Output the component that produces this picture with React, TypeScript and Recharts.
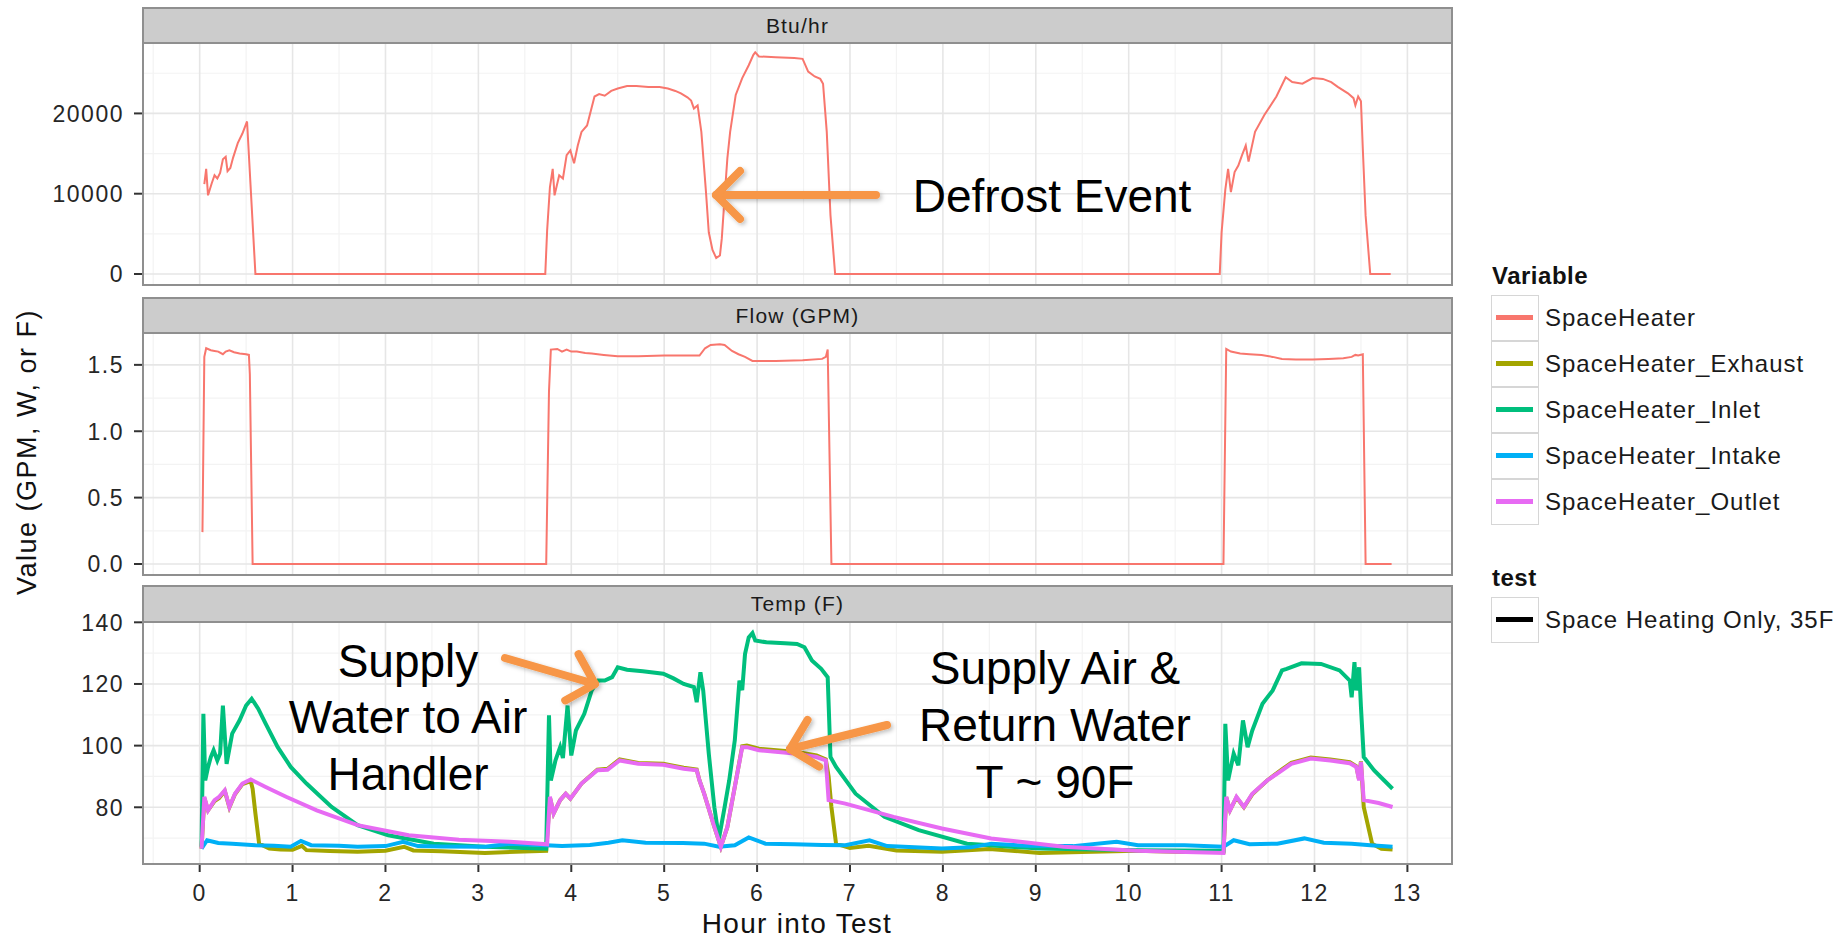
import React from "react";
import { LineChart, Line, XAxis, YAxis, ReferenceLine } from "recharts";

type Pt = [number, number];

const FONT = '"Liberation Sans", Arial, Helvetica, sans-serif';

// hours into the test
const hourTicks = [0, 1, 2, 3, 4, 5, 6, 7, 8, 9, 10, 11, 12, 13];
const hourMinorTicks = [-0.5, 0.5, 1.5, 2.5, 3.5, 4.5, 5.5, 6.5, 7.5, 8.5, 9.5, 10.5, 11.5, 12.5];

// Btu/hr panel
const btuTicks = [0, 10000, 20000];
const btuMinorTicks = [5000, 15000, 25000];
const btuHeater: Pt[] = [
  [0.05, 11200], [0.07, 13100], [0.09, 9800], [0.13, 11300], [0.16, 12300], [0.19, 11900],
  [0.22, 12600], [0.25, 14300], [0.28, 14600], [0.3, 12800], [0.33, 13200], [0.36, 14500],
  [0.41, 16300], [0.46, 17500], [0.51, 19000], [0.6, 0], [3.72, 0], [3.74, 5400], [3.77, 10800],
  [3.8, 13100], [3.82, 9800], [3.87, 12300], [3.91, 11900], [3.95, 14800], [3.99, 15400],
  [4.03, 13800], [4.07, 16000], [4.11, 17700], [4.17, 18500], [4.25, 22100], [4.3, 22400],
  [4.36, 22200], [4.43, 22800], [4.5, 23100], [4.6, 23400], [4.7, 23400], [4.83, 23300],
  [4.95, 23300], [5.04, 23100], [5.12, 22800], [5.18, 22500], [5.25, 22000], [5.29, 21600],
  [5.32, 20600], [5.36, 21000], [5.4, 17700], [5.45, 10200], [5.48, 5200], [5.52, 3000],
  [5.56, 2000], [5.6, 2300], [5.62, 4400], [5.65, 9500], [5.68, 14400], [5.71, 17700],
  [5.77, 22300], [5.84, 24400], [5.91, 26000], [5.96, 27300], [5.98, 27600], [6.02, 27100],
  [6.2, 27000], [6.4, 26900], [6.49, 26800], [6.55, 25200], [6.62, 24600], [6.68, 24300],
  [6.71, 23700], [6.75, 17700], [6.79, 7300], [6.84, 0], [10.98, 0], [11.0, 5200], [11.04, 10500],
  [11.07, 13100], [11.1, 10200], [11.14, 12700], [11.18, 13500], [11.22, 14800], [11.26, 16000],
  [11.29, 14000], [11.36, 17700], [11.46, 19800], [11.59, 22100], [11.69, 24500], [11.76, 23900],
  [11.87, 23700], [11.98, 24400], [12.09, 24300], [12.18, 23900], [12.25, 23300], [12.36, 22500],
  [12.42, 21900], [12.44, 21000], [12.47, 22100], [12.5, 21500], [12.52, 15600], [12.55, 7300],
  [12.6, 0], [12.82, 0],
];

// Flow (GPM) panel
const flowTicks = [0, 0.5, 1, 1.5];
const flowMinorTicks = [0.25, 0.75, 1.25];
const flowHeater: Pt[] = [
  [0.03, 0.24], [0.05, 1.56], [0.07, 1.625], [0.12, 1.61], [0.16, 1.605], [0.2, 1.6], [0.25, 1.58],
  [0.28, 1.6], [0.32, 1.61], [0.37, 1.595], [0.43, 1.585], [0.5, 1.58], [0.53, 1.575], [0.54, 1.43],
  [0.57, 0], [3.73, 0], [3.76, 1.3], [3.78, 1.615], [3.85, 1.62], [3.9, 1.6], [3.95, 1.615],
  [4.0, 1.6], [4.06, 1.6], [4.15, 1.59], [4.22, 1.585], [4.35, 1.575], [4.5, 1.565], [4.72, 1.565],
  [5.0, 1.57], [5.2, 1.57], [5.38, 1.57], [5.44, 1.625], [5.5, 1.65], [5.6, 1.655], [5.65, 1.65],
  [5.73, 1.605], [5.8, 1.58], [5.87, 1.56], [5.95, 1.53], [6.2, 1.53], [6.49, 1.535], [6.7, 1.545],
  [6.74, 1.56], [6.76, 1.615], [6.8, 0], [11.02, 0], [11.05, 1.62], [11.1, 1.6], [11.2, 1.585],
  [11.3, 1.58], [11.43, 1.575], [11.55, 1.56], [11.65, 1.545], [11.8, 1.54], [11.98, 1.54],
  [12.15, 1.545], [12.31, 1.55], [12.4, 1.56], [12.44, 1.575], [12.47, 1.57], [12.52, 1.58],
  [12.55, 0], [12.83, 0],
];

// Temp (F) panel
const tempTicks = [80, 100, 120, 140];
const tempMinorTicks = [70, 90, 110, 130];
const tempExhaust: Pt[] = [
  [0.02, 66.6], [0.05, 83], [0.09, 79], [0.16, 82], [0.21, 83], [0.27, 85.3], [0.32, 80],
  [0.38, 84.2], [0.46, 87.5], [0.55, 88.5], [0.57, 86], [0.6, 78], [0.64, 68.2], [0.75, 66.6],
  [0.87, 66.3], [1.0, 66.2], [1.1, 67.5], [1.15, 66.1], [1.4, 65.8], [1.7, 65.6], [2.0, 65.9],
  [2.2, 67.2], [2.3, 66], [2.6, 65.7], [3.07, 65.2], [3.4, 65.6], [3.73, 65.9], [3.77, 83.2],
  [3.81, 78], [3.88, 82.3], [3.94, 84.4], [3.99, 82.8], [4.11, 87.7], [4.28, 92.2], [4.39, 92.5],
  [4.52, 95.5], [4.72, 94.4], [4.99, 94.1], [5.21, 92.8], [5.35, 92.2], [5.38, 88.7], [5.43, 84.4],
  [5.54, 73.6], [5.61, 67.2], [5.68, 73.6], [5.76, 86.6], [5.84, 99.8], [5.89, 100], [6.02, 99],
  [6.43, 97.9], [6.64, 96.8], [6.74, 95.5], [6.77, 90], [6.8, 80.1], [6.85, 68.2], [7.0, 66.8],
  [7.2, 67.5], [7.5, 66], [7.99, 65.6], [8.5, 66.5], [9.04, 65.2], [9.5, 65.5], [10.08, 65.9],
  [10.6, 65.5], [11.02, 65.5], [11.05, 83.2], [11.09, 79], [11.16, 83.2], [11.24, 80],
  [11.33, 84.2], [11.49, 88.7], [11.65, 92.3], [11.75, 94.4], [11.96, 96.1], [12.17, 95.5],
  [12.38, 94.6], [12.45, 93.3], [12.48, 89], [12.5, 94.9], [12.53, 80.1], [12.62, 68.2],
  [12.72, 66.5], [12.84, 66.3],
];
const tempInlet: Pt[] = [
  [0.02, 67.2], [0.04, 110.3], [0.06, 88.7], [0.09, 93], [0.12, 96.3], [0.15, 98.5], [0.19, 95.2],
  [0.22, 97.4], [0.25, 113], [0.29, 94.1], [0.35, 103.9], [0.43, 108.2], [0.5, 113], [0.56, 115.2],
  [0.63, 112], [0.71, 107.1], [0.84, 99.5], [0.98, 93.1], [1.15, 87.7], [1.42, 80.1], [1.7, 74.2],
  [2.03, 70.9], [2.52, 68.2], [3.07, 67.2], [3.73, 66.6], [3.76, 109.8], [3.78, 88.7], [3.83, 95.2],
  [3.88, 99.5], [3.91, 96], [3.96, 113], [4.0, 96.8], [4.05, 104.9], [4.14, 110.3], [4.22, 117.9],
  [4.29, 121.1], [4.36, 121.1], [4.44, 122.2], [4.5, 125.4], [4.6, 124.6], [4.77, 124.1],
  [4.99, 123.3], [5.1, 121.8], [5.21, 120], [5.32, 119], [5.35, 114.1], [5.39, 123.8], [5.42, 117.9],
  [5.48, 97.4], [5.54, 80], [5.59, 69.9], [5.65, 80], [5.7, 88.7], [5.76, 101.7], [5.81, 121.1],
  [5.84, 118], [5.87, 129.7], [5.91, 135.1], [5.95, 136.5], [5.98, 134.1], [6.1, 133.5],
  [6.3, 133.2], [6.43, 133], [6.51, 131.9], [6.59, 127.6], [6.69, 124.9], [6.76, 122.2],
  [6.79, 96.3], [6.85, 93.1], [7.06, 84.4], [7.37, 76.9], [7.74, 72.6], [8.26, 68.2], [9.04, 66.6],
  [10.08, 66.1], [11.02, 65.9], [11.04, 107.1], [11.07, 88.7], [11.13, 97.4], [11.18, 93.6],
  [11.23, 108.2], [11.28, 99.5], [11.33, 104.9], [11.44, 113.6], [11.55, 117.9], [11.65, 124.4],
  [11.7, 124.9], [11.86, 126.7], [12.07, 126.5], [12.27, 124.4], [12.38, 121.1], [12.4, 115.7],
  [12.43, 127.1], [12.45, 117.9], [12.48, 125.4], [12.5, 112.5], [12.53, 96.3], [12.64, 92],
  [12.74, 89], [12.84, 86],
];
const tempIntake: Pt[] = [
  [0.02, 66.6], [0.08, 69.3], [0.2, 68.4], [0.35, 68.2], [0.6, 67.7], [0.8, 67.5], [0.98, 67.2],
  [1.09, 69.1], [1.2, 67.7], [1.5, 67.5], [1.7, 67.2], [2.0, 67.4], [2.19, 68.8], [2.35, 67.4],
  [2.6, 67.3], [3.07, 67.2], [3.34, 68.2], [3.73, 67.7], [3.9, 67.4], [4.2, 67.8], [4.4, 68.5],
  [4.55, 69.3], [4.8, 68.5], [5.2, 68.4], [5.43, 68.2], [5.59, 67.2], [5.76, 67.7], [5.91, 70.2],
  [6.09, 68.2], [6.4, 68], [6.7, 67.8], [6.95, 67.7], [7.21, 69.3], [7.4, 67.4], [7.99, 66.6],
  [8.3, 67], [8.52, 68.2], [8.9, 67.5], [9.4, 67.4], [9.87, 68.8], [10.1, 67.7], [10.6, 67.7],
  [11.02, 67.2], [11.13, 69.3], [11.3, 68], [11.6, 68.2], [11.89, 69.9], [12.1, 68.5], [12.4, 68.2],
  [12.6, 67.7], [12.84, 67.2],
];
const tempOutlet: Pt[] = [
  [0.02, 66.6], [0.05, 83.4], [0.09, 79], [0.16, 82.3], [0.21, 83.4], [0.27, 85.5], [0.32, 80.1],
  [0.38, 84.4], [0.46, 87.7], [0.55, 89], [0.71, 86.6], [0.93, 83.4], [1.26, 79], [1.7, 74.2],
  [2.25, 70.9], [2.79, 69.5], [3.34, 68.8], [3.74, 68], [3.77, 83.4], [3.81, 78], [3.88, 82.3],
  [3.94, 84.4], [3.99, 82.8], [4.11, 87.7], [4.28, 92], [4.39, 92.2], [4.52, 95.2], [4.72, 94.1],
  [4.99, 93.8], [5.21, 92.5], [5.35, 92], [5.38, 88.7], [5.43, 84.4], [5.54, 73.6], [5.61, 67.2],
  [5.68, 73.6], [5.76, 86.6], [5.84, 99.5], [5.89, 99.5], [6.02, 98.5], [6.43, 97.4], [6.64, 96.3],
  [6.74, 95.2], [6.77, 82.3], [6.95, 81.2], [7.47, 76.9], [7.99, 73.1], [8.52, 69.9], [9.3, 67.2],
  [10.08, 65.9], [11.02, 65.2], [11.05, 83.4], [11.09, 79], [11.16, 83.4], [11.24, 80.1],
  [11.33, 84.4], [11.49, 88.7], [11.65, 92], [11.75, 94.1], [11.96, 95.8], [12.17, 95.2],
  [12.38, 94.3], [12.45, 93.1], [12.48, 88.7], [12.5, 94.7], [12.53, 82.3], [12.69, 81.4],
  [12.84, 80.1],
];

const variableNames = [
  "SpaceHeater",
  "SpaceHeater_Exhaust",
  "SpaceHeater_Inlet",
  "SpaceHeater_Intake",
  "SpaceHeater_Outlet",
];
const variableColors = ["#F8766D", "#A3A500", "#00BF7D", "#00B0F6", "#E76BF3"];
const testNames = ["Space Heating Only, 35F"];

const X_DOMAIN: [number, number] = [-0.61, 13.48];
const PANEL_LEFT = 143;
const PANEL_W = 1309;
const PLOT_H = 242;
const PAD = 20; // room above/below the plot so edge tick labels are not clipped
const BORDER = "#8f8f8f";

const toRows = (pts: Pt[]) => pts.map(([h, v]) => ({ h, v }));

type Series = { name: string; color: string; data: Pt[] };
type PanelDef = {
  strip: string;
  stripTop: number;
  top: number;
  domain: [number, number];
  ticks: number[];
  minor: number[];
  fmt: (v: number) => string;
  lineWidth: number;
  series: Series[];
};

const panels: PanelDef[] = [
  {
    strip: "Btu/hr",
    stripTop: 7,
    top: 43,
    domain: [-1370, 28770],
    ticks: btuTicks,
    minor: btuMinorTicks,
    fmt: (v) => String(v),
    lineWidth: 2,
    series: [{ name: variableNames[0], color: variableColors[0], data: btuHeater }],
  },
  {
    strip: "Flow (GPM)",
    stripTop: 297,
    top: 333,
    domain: [-0.083, 1.74],
    ticks: flowTicks,
    minor: flowMinorTicks,
    fmt: (v) => v.toFixed(1),
    lineWidth: 2,
    series: [{ name: variableNames[0], color: variableColors[0], data: flowHeater }],
  },
  {
    strip: "Temp (F)",
    stripTop: 585,
    top: 622,
    domain: [61.6, 140.1],
    ticks: tempTicks,
    minor: tempMinorTicks,
    fmt: (v) => String(v),
    lineWidth: 4,
    series: [
      { name: variableNames[1], color: variableColors[1], data: tempExhaust },
      { name: variableNames[2], color: variableColors[2], data: tempInlet },
      { name: variableNames[3], color: variableColors[3], data: tempIntake },
      { name: variableNames[4], color: variableColors[4], data: tempOutlet },
    ],
  },
];

const tickText = {
  fontFamily: FONT,
  fontSize: 23,
  letterSpacing: 1.5,
  fill: "#262626",
};

function Arrow({ x1, y1, x2, y2 }: { x1: number; y1: number; x2: number; y2: number }) {
  const ang = Math.atan2(y2 - y1, x2 - x1);
  const len = 34;
  const a = ang + Math.PI - Math.PI / 4;
  const b = ang + Math.PI + Math.PI / 4;
  const pts = `${x2 + len * Math.cos(a)},${y2 + len * Math.sin(a)} ${x2},${y2} ${x2 + len * Math.cos(b)},${y2 + len * Math.sin(b)}`;
  return (
    <g stroke="#F79646" strokeWidth={8} fill="none" strokeLinecap="round" strokeLinejoin="round" filter="url(#shadow)">
      <line x1={x1} y1={y1} x2={x2} y2={y2} />
      <polyline points={pts} />
    </g>
  );
}

function LegendBlock({ title, top, names, colors }: { title: string; top: number; names: string[]; colors: string[] }) {
  return (
    <>
      <div
        style={{
          position: "absolute",
          left: 1492,
          top: top - 16,
          height: 32,
          lineHeight: "32px",
          fontSize: 24,
          fontWeight: "bold",
          letterSpacing: 0.5,
          color: "#111",
          whiteSpace: "nowrap",
        }}
      >
        {title}
      </div>
      {names.map((n, i) => (
        <React.Fragment key={n}>
          <div
            style={{
              position: "absolute",
              left: 1491,
              top: top + 19 + i * 46,
              width: 48,
              height: 46,
              boxSizing: "border-box",
              border: "1.5px solid #d6d6d6",
              background: "#fff",
            }}
          >
            <div style={{ position: "absolute", left: 4, top: 19, width: 37, height: 5, background: colors[i] }} />
          </div>
          <div
            style={{
              position: "absolute",
              left: 1545,
              top: top + 19 + i * 46,
              height: 46,
              lineHeight: "46px",
              fontSize: 24,
              letterSpacing: 1,
              color: "#1a1a1a",
              whiteSpace: "nowrap",
            }}
          >
            {n}
          </div>
        </React.Fragment>
      ))}
    </>
  );
}

export default function App() {
  return (
    <div
      style={{
        position: "absolute",
        left: 0,
        top: 0,
        width: 1839,
        height: 939,
        background: "#fff",
        fontFamily: FONT,
        overflow: "hidden",
      }}
    >
      {panels.map((p, i) => {
        const last = i === panels.length - 1;
        return (
          <React.Fragment key={p.strip}>
            <div style={{ position: "absolute", left: 0, top: p.top - PAD }}>
              <LineChart
                width={PANEL_LEFT + PANEL_W}
                height={PLOT_H + PAD + (last ? 80 : PAD)}
                margin={{ top: PAD, right: 0, bottom: last ? 0 : PAD, left: 0 }}
              >
                <XAxis
                  type="number"
                  dataKey="h"
                  domain={X_DOMAIN}
                  ticks={hourTicks}
                  interval={0}
                  allowDataOverflow
                  hide={!last}
                  height={80}
                  axisLine={false}
                  tickSize={8}
                  tickMargin={13}
                  tickLine={{ stroke: "#333", strokeWidth: 2 }}
                  tick={(props: any) => (
                    <text x={props.x} y={props.y} dy="0.71em" textAnchor="middle" {...tickText}>
                      {props.payload.value}
                    </text>
                  )}
                />
                <YAxis
                  type="number"
                  dataKey="v"
                  domain={p.domain}
                  ticks={p.ticks}
                  interval={0}
                  allowDataOverflow
                  width={PANEL_LEFT}
                  axisLine={false}
                  tickSize={9}
                  tickMargin={10}
                  tickLine={{ stroke: "#333", strokeWidth: 2 }}
                  tick={(props: any) => (
                    <text x={props.x} y={props.y} dy="0.36em" textAnchor="end" {...tickText}>
                      {p.fmt(props.payload.value)}
                    </text>
                  )}
                />
                {hourMinorTicks.map((h) => (
                  <ReferenceLine key={"xm" + h} x={h} stroke="#f3f3f3" strokeWidth={1.2} zIndex={-60} />
                ))}
                {p.minor.map((v) => (
                  <ReferenceLine key={"ym" + v} y={v} stroke="#f3f3f3" strokeWidth={1.2} zIndex={-60} />
                ))}
                {hourTicks.map((h) => (
                  <ReferenceLine key={"xM" + h} x={h} stroke="#e6e6e6" strokeWidth={1.6} zIndex={-50} />
                ))}
                {p.ticks.map((v) => (
                  <ReferenceLine key={"yM" + v} y={v} stroke="#e6e6e6" strokeWidth={1.6} zIndex={-50} />
                ))}
                {p.series.map((s) => (
                  <Line
                    key={s.name}
                    data={toRows(s.data)}
                    dataKey="v"
                    type="linear"
                    stroke={s.color}
                    strokeWidth={p.lineWidth}
                    dot={false}
                    activeDot={false}
                    isAnimationActive={false}
                  />
                ))}
              </LineChart>
            </div>
            <div
              style={{
                position: "absolute",
                left: PANEL_LEFT - 1,
                top: p.top - 1,
                width: PANEL_W + 2,
                height: PLOT_H + 2,
                boxSizing: "border-box",
                border: `2px solid ${BORDER}`,
                pointerEvents: "none",
              }}
            />
            <div
              style={{
                position: "absolute",
                left: PANEL_LEFT - 1,
                top: p.stripTop,
                width: PANEL_W + 2,
                height: p.top - p.stripTop + 1,
                boxSizing: "border-box",
                border: `2px solid ${BORDER}`,
                background: "#cccccc",
                textAlign: "center",
                lineHeight: `${p.top - p.stripTop - 3}px`,
                fontSize: 21,
                letterSpacing: 1.2,
                color: "#1a1a1a",
              }}
            >
              {p.strip}
            </div>
          </React.Fragment>
        );
      })}

      <LegendBlock title="Variable" top={276} names={variableNames} colors={variableColors} />
      <LegendBlock title="test" top={578} names={testNames} colors={["#000"]} />

      <svg width={1839} height={939} style={{ position: "absolute", left: 0, top: 0, pointerEvents: "none" }}>
        <defs>
          <filter id="shadow" x="-20%" y="-50%" width="140%" height="200%">
            <feDropShadow dx="2" dy="2" stdDeviation="2" floodColor="#000" floodOpacity="0.25" />
          </filter>
        </defs>
        <text
          transform="translate(27,452) rotate(-90)"
          textAnchor="middle"
          dominantBaseline="central"
          fontFamily={FONT}
          fontSize={27}
          letterSpacing={1.5}
          fill="#111"
        >
          Value (GPM, W, or F)
        </text>
        <text x={797} y={933} textAnchor="middle" fontFamily={FONT} fontSize={28} letterSpacing={1.3} fill="#111">
          Hour into Test
        </text>

        <Arrow x1={876} y1={195} x2={716} y2={195} />
        <text x={1052} y={212} textAnchor="middle" fontFamily={FONT} fontSize={46} fill="#000">
          Defrost Event
        </text>

        <Arrow x1={505} y1={658} x2={595} y2={684} />
        <text textAnchor="middle" fontFamily={FONT} fontSize={46} fill="#000">
          <tspan x={408} y={677}>Supply</tspan>
          <tspan x={408} y={733}>Water to Air</tspan>
          <tspan x={408} y={790}>Handler</tspan>
        </text>

        <Arrow x1={887} y1={725} x2={790} y2={749} />
        <text textAnchor="middle" fontFamily={FONT} fontSize={46} fill="#000">
          <tspan x={1055} y={684}>Supply Air &amp;</tspan>
          <tspan x={1055} y={741}>Return Water</tspan>
          <tspan x={1055} y={798}>T ~ 90F</tspan>
        </text>
      </svg>
    </div>
  );
}
